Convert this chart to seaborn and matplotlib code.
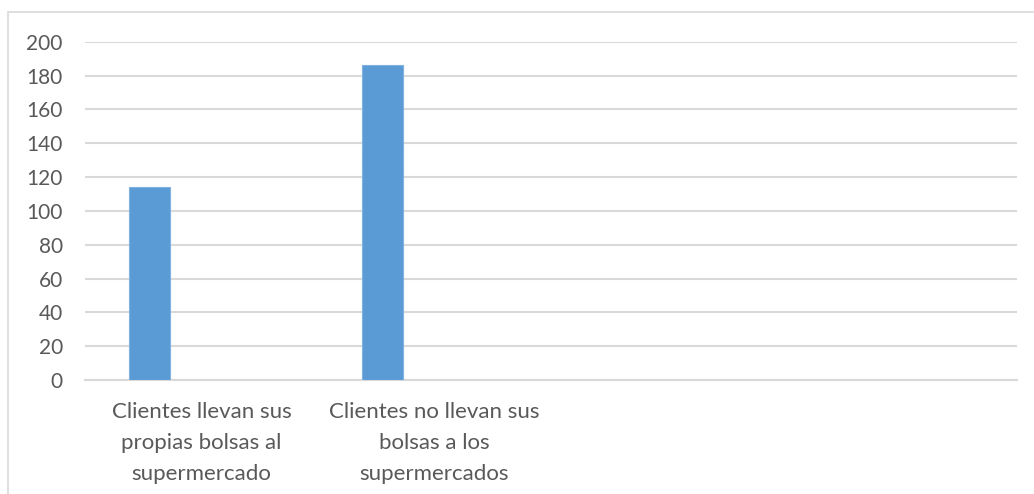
import matplotlib
matplotlib.use("Agg")
import matplotlib.pyplot as plt
import seaborn as sns
import pandas as pd
from matplotlib.patches import Rectangle

# Survey answers: how many customers bring their own bags
categories = ["Clientes llevan sus\npropias bolsas al\nsupermercado",
              "Clientes no llevan sus\nbolsas a los\nsupermercados"]
values = [114, 186]
# two trailing empty category slots on the axis
slots = categories + ["_vacio1", "_vacio2"]
tick_labels = categories + ["", ""]
y_ticks = list(range(0, 201, 20))

sns.set_theme(style="white")
plt.rcParams["font.family"] = ["Lato", "DejaVu Sans"]

W, H = 1034, 494
fig = plt.figure(figsize=(W / 100, H / 100), dpi=100)
ax = fig.add_axes([85 / W, 1 - 380 / H, (1017 - 85) / W, (380 - 41.7) / H])

df = pd.DataFrame({"cat": categories, "val": values})
sns.barplot(data=df, x="cat", y="val", order=slots, color="#5B9BD5",
            saturation=1, width=0.175, edgecolor="#7FB2E3", linewidth=0.8,
            ax=ax, zorder=3)
# bars sit left of the category centre
for p in ax.patches:
    p.set_x(p.get_x() - 0.222)

ax.set_xlim(-0.5, len(slots) - 0.5)
ax.set_ylim(0, 200)
ax.set_yticks(y_ticks)
ax.set_yticklabels([str(t) for t in y_ticks])
ax.set_xticks(range(len(slots)))
ax.set_xticklabels(tick_labels, linespacing=1.68)
ax.set_xlabel("")
ax.set_ylabel("")

ax.yaxis.grid(True, color="#D9D9D9", linewidth=1.5, zorder=0)
ax.xaxis.grid(False)
for s in ["top", "right", "left"]:
    ax.spines[s].set_visible(False)
ax.spines["bottom"].set_color("#D9D9D9")
ax.spines["bottom"].set_linewidth(1.5)

ax.tick_params(axis="y", length=0, pad=16, labelsize=15, labelcolor="#595959")
ax.tick_params(axis="x", length=0, pad=16, labelsize=16, labelcolor="#595959")

# chart frame
fig.patches.append(Rectangle((8 / W, -0.1), 1.2, 1 - 12 / H + 0.1,
                             transform=fig.transFigure, fill=False,
                             edgecolor="#D9D9D9", linewidth=1.2))

fig.savefig("out.png", dpi=100, facecolor="white")
